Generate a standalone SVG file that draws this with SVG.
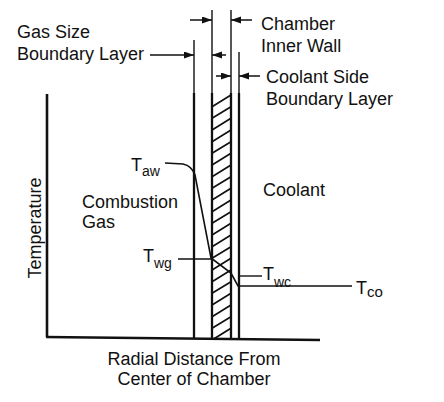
<svg xmlns="http://www.w3.org/2000/svg" width="444" height="402" viewBox="0 0 444 402">
<defs>
<style>
text{font-family:"Liberation Sans",Arial,sans-serif;fill:#111;font-size:18px}
.sub{font-size:14px}
.thin{stroke:#111;stroke-width:1.4;fill:none}
.thick{stroke:#111;stroke-width:2.3;fill:none}
.hatch{stroke:#111;stroke-width:1.8;fill:none}
.arr{stroke:#111;stroke-width:1.5;fill:none;marker-end:url(#ah)}
</style>
<marker id="ah" markerUnits="userSpaceOnUse" markerWidth="11" markerHeight="8" refX="10" refY="3.5" orient="auto">
<path d="M0,0 L10,3.5 L0,7 Z" fill="#111"/>
</marker>
<clipPath id="wallclip"><rect x="212" y="93" width="19" height="245"/></clipPath>
</defs>

<g id="axes">
<path class="thick" d="M47,94 L47,337" style="stroke-width:2.6"/>
<path class="thick" d="M46,337 L320,340" style="stroke-width:2.6"/>
<text x="0" y="0" transform="translate(41,228) rotate(-90)" text-anchor="middle">Temperature</text>
<text x="194" y="365" text-anchor="middle">Radial Distance From</text>
<text x="194" y="385" text-anchor="middle">Center of Chamber</text>
</g>

<g id="gas-boundary-layer">
<path class="thin" d="M194,40 L194,93"/>
<path class="thick" d="M194,93 L194,338"/>
</g>

<g id="chamber-inner-wall">
<path class="thin" d="M212,10 L212,93 M231,10 L231,93"/>
<path class="thick" d="M212,93 L212,338 M231,93 L231,338"/>
<path class="hatch" clip-path="url(#wallclip)" d="M212,106.7 L231,95 M212,118.3 L231,106.7 M212,130 L231,118.3 M212,141.7 L231,130 M212,153.3 L231,141.7 M212,165 L231,153.3 M212,176.7 L231,165 M212,188.3 L231,176.7 M212,200 L231,188.3 M212,211.7 L231,200 M212,223.3 L231,211.7 M212,235 L231,223.3 M212,246.7 L231,235 M212,258.3 L231,246.7 M212,270 L231,258.3 M212,281.7 L231,270 M212,293.3 L231,281.7 M212,305 L231,293.3 M212,316.7 L231,305 M212,328.3 L231,316.7 M212,340 L231,328.3 M212,351.7 L231,340"/>
</g>

<g id="coolant-boundary-layer">
<path class="thin" d="M239,52 L239,93"/>
<path class="thick" d="M239,93 L239,338"/>
</g>

<g id="labels">
<text x="17" y="38">Gas Size</text>
<text x="17" y="60">Boundary Layer</text>
<text x="261" y="30">Chamber</text>
<text x="261" y="52">Inner Wall</text>
<text x="266" y="83">Coolant Side</text>
<text x="266" y="105">Boundary Layer</text>
<text x="82" y="208">Combustion</text>
<text x="82" y="228">Gas</text>
<text x="263" y="196">Coolant</text>
<text x="131" y="171">T<tspan class="sub" dy="5">aw</tspan></text>
<text x="143" y="262">T<tspan class="sub" dy="6">wg</tspan></text>
<text x="263" y="280">T<tspan class="sub" dy="7">wc</tspan></text>
<text x="356" y="294">T<tspan class="sub" dy="3" style="font-size:15px">co</tspan></text>
</g>

<g id="connectors">
<path class="arr" d="M150,55 L194,55"/>
<path class="arr" d="M226,55 L212,55"/>
<path class="arr" d="M190,20 L212,20"/>
<path class="arr" d="M252,20 L231,20"/>
<path class="arr" d="M216,76 L231,76"/>
<path class="arr" d="M260,76 L239,76"/>
<path class="thin" d="M165,163 L183,164 Q192,166 195,175 L211,258 L231,273 L238,286 L352,286" style="stroke-width:1.6"/>
<path class="thin" d="M178,259 L212,259"/>
<path class="thin" d="M238,276 L262,276"/>
</g>
</svg>
